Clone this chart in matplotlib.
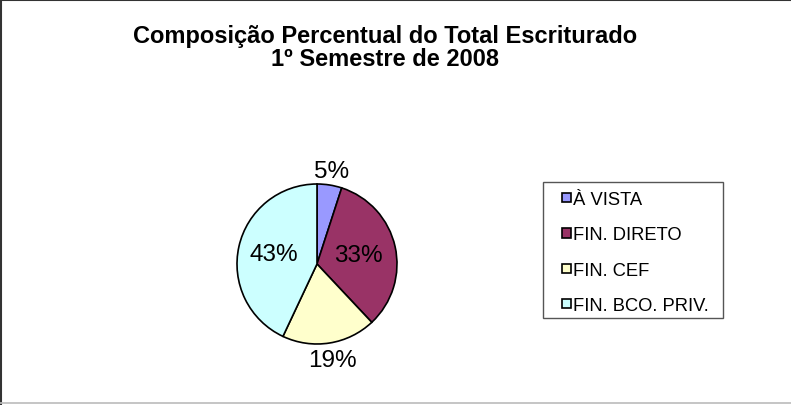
import numpy as np
import matplotlib.pyplot as plt
from matplotlib.patches import Patch, Rectangle
from matplotlib.legend_handler import HandlerPatch
from matplotlib.lines import Line2D

categorias = ['À VISTA', 'FIN. DIRETO', 'FIN. CEF', 'FIN. BCO. PRIV.']
percentuais = [5, 33, 19, 43]
cores = ['#9999FF', '#993366', '#FFFFCC', '#CCFFFF']
titulo = 'Composição Percentual do Total Escriturado\n1º Semestre de 2008'

# distancia de cada rotulo ao centro (fracao do raio)
dist_rotulo = [1.18, 0.53, 1.22, 0.55]

plt.rcParams['font.family'] = ['Liberation Sans', 'DejaVu Sans']

fig = plt.figure(figsize=(7.91, 4.06), dpi=100)
fig.patch.set_facecolor('white')

fig.text(0.487, 0.882, titulo, ha='center', va='center', fontsize=17,
         fontweight='bold', linespacing=1.0)

ax = fig.add_axes([237 / 791, 61 / 406, 160 / 791, 160 / 406])
wedges, _ = ax.pie(percentuais, colors=cores, startangle=90, counterclock=False,
                   wedgeprops=dict(edgecolor='black', linewidth=1.2))
ax.set_xlim(-1, 1)
ax.set_ylim(-1, 1)
ax.set_aspect('auto')

for w, p, d in zip(wedges, percentuais, dist_rotulo):
    ang = np.deg2rad((w.theta1 + w.theta2) / 2)
    ax.text(d * np.cos(ang), d * np.sin(ang), f'{p}%', ha='center', va='center',
            fontsize=17.5, clip_on=False)


# quadradinho da legenda encostado no texto
def quadrado(legend, orig_handle, xdescent, ydescent, width, height, fontsize):
    lado = 0.5 * fontsize
    return Rectangle((width - xdescent - lado, (height - lado) / 2 - ydescent), lado, lado)


# caixa da legenda (desenhada a parte para ter as margens do original)
fig.add_artist(Rectangle((543 / 791, 1 - 319 / 406), 180 / 791, 136 / 406,
                         transform=fig.transFigure, facecolor='white',
                         edgecolor='#555555', linewidth=1))

handles = [Patch(facecolor=c, edgecolor='black', linewidth=1.2) for c in cores]
leg = fig.legend(handles, categorias, loc='upper left',
                 bbox_to_anchor=(543 / 791, 1 - 184 / 406), fontsize=13.2,
                 handlelength=1.1, handleheight=0.7, handletextpad=0.1,
                 labelspacing=0.99, borderpad=0.45, borderaxespad=0,
                 frameon=False,
                 handler_map={Patch: HandlerPatch(patch_func=quadrado)})

# bordas da area do grafico
fig.add_artist(Line2D([0.0015, 0.0015], [0, 1], color='#333333', linewidth=1.5))
fig.add_artist(Line2D([0, 1], [0.998, 0.998], color='#333333', linewidth=1.5))
fig.add_artist(Line2D([0, 1], [0.004, 0.004], color='#bbbbbb', linewidth=1.2))

fig.savefig('out.png', dpi=100)
